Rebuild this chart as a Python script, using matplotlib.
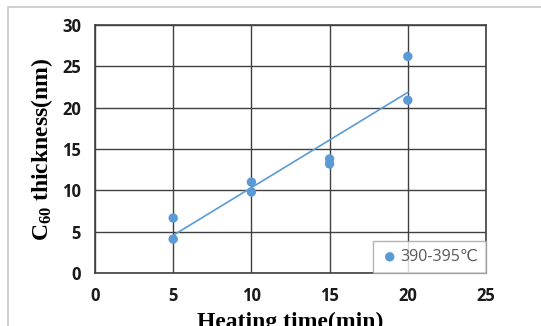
import matplotlib
matplotlib.use("Agg")
import matplotlib.pyplot as plt
import numpy as np
from matplotlib.patches import Rectangle

heating_time = [5, 5, 10, 10, 15, 15, 20, 20]
thickness = [6.65, 4.1, 11.0, 9.8, 13.8, 13.2, 26.2, 20.9]
series_label = "390-395℃"
x_ticks = [0, 5, 10, 15, 20, 25]
y_ticks = [0, 5, 10, 15, 20, 25, 30]

plt.rcParams['mathtext.fontset'] = 'custom'
plt.rcParams['mathtext.rm'] = 'Liberation Serif:bold'
plt.rcParams['mathtext.it'] = 'Liberation Serif:bold'
plt.rcParams['mathtext.bf'] = 'Liberation Serif:bold'

fig = plt.figure(figsize=(5.41, 3.26), dpi=100)
fig.patches.append(Rectangle((8/541, -0.1), 2, 1.1 - 7/326, transform=fig.transFigure,
                             fill=False, edgecolor='#c8c8c8', lw=1.2))
ax = fig.add_axes([95/541, 1 - 273/326, 391/541, 248/326])

color = '#5B9BD5'
ax.scatter(heating_time, thickness, s=46, color=color, zorder=3, label=series_label, edgecolors='none')
coef = np.polyfit(heating_time, thickness, 1)
xs = np.array([min(heating_time), max(heating_time)])
ax.plot(xs, np.polyval(coef, xs), color=color, lw=1.2, zorder=2)

ax.set_xlim(0, 25)
ax.set_ylim(0, 30)
ax.set_xticks(x_ticks)
ax.set_yticks(y_ticks)
ax.grid(True, color='#404040', lw=1.0)
ax.set_axisbelow(True)
for s in ax.spines.values():
    s.set_color('#404040')
    s.set_linewidth(1.2)
ax.tick_params(length=0, pad=10, labelsize=12)
for lbl in ax.get_xticklabels() + ax.get_yticklabels():
    lbl.set_fontfamily('Open Sans')
    lbl.set_fontweight('bold')
    lbl.set_color('#1a1a1a')

ax.set_ylabel(r'C$_{60}$ thickness(nm)', fontfamily='Liberation Serif', fontweight='bold',
              fontsize=17, labelpad=5)
ax.set_xlabel('Heating time(min)', fontfamily='Liberation Serif', fontweight='bold',
              fontsize=17, labelpad=5)

leg = ax.legend(loc='lower right', borderaxespad=0.0, frameon=True, fancybox=False,
                handletextpad=0.1, handlelength=1.1, borderpad=0.5,
                prop={'family': ['Open Sans', 'DejaVu Sans'], 'size': 11.5})
leg.get_frame().set_edgecolor('#a0a0a0')
leg.get_frame().set_linewidth(1.0)
for t in leg.get_texts():
    t.set_color('#595959')

fig.savefig('out.png', dpi=100)
